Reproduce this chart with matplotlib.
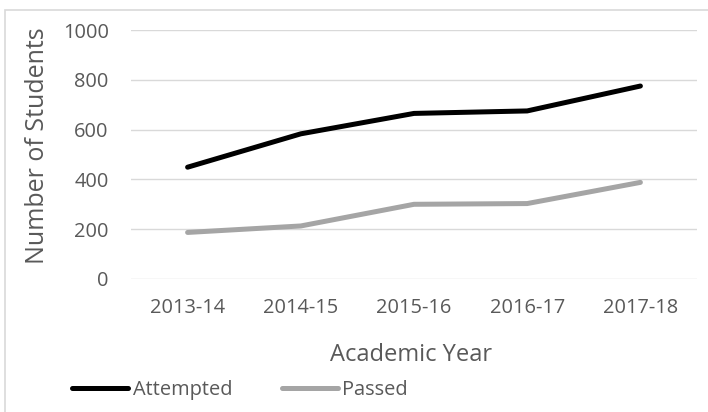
import matplotlib
matplotlib.use("Agg")
import matplotlib.pyplot as plt
from matplotlib.patches import Rectangle

years = ["2013-14", "2014-15", "2015-16", "2016-17", "2017-18"]
attempted = [449, 583, 665, 675, 775]
passed = [187, 213, 300, 303, 388]
y_ticks = [0, 200, 400, 600, 800, 1000]

plt.rcParams['font.family'] = ['Open Sans', 'DejaVu Sans']
txt = '#595959'

fig = plt.figure(figsize=(7.08, 4.12), dpi=100)
ax = fig.add_axes([131/708, 1-279/412, 566/708, 249/412])

x = list(range(len(years)))
ax.plot(x, attempted, color='#000000', lw=3.6, solid_capstyle='round', label='Attempted', zorder=3)
ax.plot(x, passed, color='#A5A5A5', lw=3.6, solid_capstyle='round', label='Passed', zorder=3)

ax.set_xlim(-0.5, len(years)-0.5)
ax.set_ylim(0, 1000)
ax.set_yticks(y_ticks)
ax.set_yticklabels([str(v) for v in y_ticks])
ax.set_xticks(x)
ax.set_xticklabels(years)
ax.yaxis.grid(True, color='#D9D9D9', lw=1.0)
ax.set_axisbelow(True)
for s in ax.spines.values():
    s.set_visible(False)
ax.tick_params(axis='both', length=0, labelsize=14.4, labelcolor=txt)
ax.tick_params(axis='y', pad=16)
ax.tick_params(axis='x', pad=14)

ax.set_xlabel('Academic Year', fontsize=17, color=txt, va='center')
ax.xaxis.set_label_coords(0.4956, (279-355)/249)
ax.set_ylabel('Number of Students', fontsize=18, color=txt, va='center')
ax.yaxis.set_label_coords((37-131)/566, (279-145.5)/249)

fig.legend(loc='center left', bbox_to_anchor=(72/708, 1-390/412), ncol=2, frameon=False,
           fontsize=14.4, labelcolor=txt, handlelength=2.8, handletextpad=0.25,
           columnspacing=2.45, borderpad=0, borderaxespad=0)

fig.patches.append(Rectangle((5/708, -0.1), 1.2, 0.1 + 1-10/412, transform=fig.transFigure,
                             fill=False, edgecolor='#D9D9D9', lw=1.2))

fig.savefig('out.png', dpi=100)
